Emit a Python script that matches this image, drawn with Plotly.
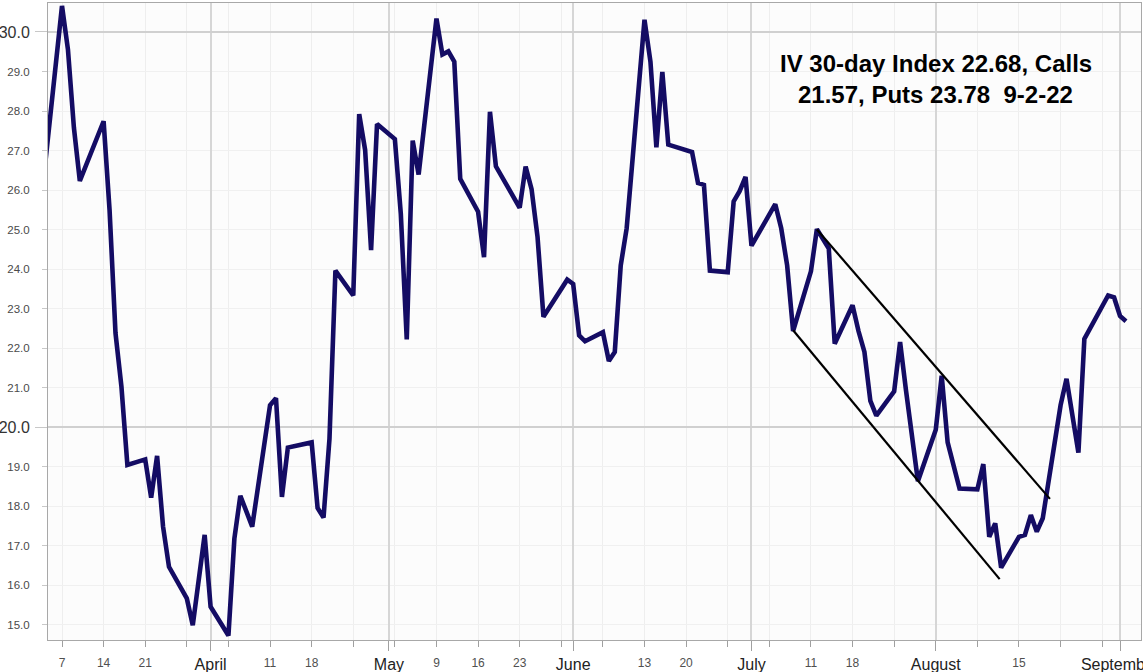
import plotly.graph_objects as go

# ---------------- data ----------------
dates = [
    "2022-03-04", "2022-03-07", "2022-03-08", "2022-03-09", "2022-03-10",
    "2022-03-14", "2022-03-15", "2022-03-16", "2022-03-17", "2022-03-18",
    "2022-03-21", "2022-03-22", "2022-03-23", "2022-03-24", "2022-03-25",
    "2022-03-28", "2022-03-29", "2022-03-30", "2022-03-31", "2022-04-01",
    "2022-04-04", "2022-04-05", "2022-04-06", "2022-04-08",
    "2022-04-11", "2022-04-12", "2022-04-13", "2022-04-14",
    "2022-04-18", "2022-04-19", "2022-04-20", "2022-04-21", "2022-04-22",
    "2022-04-25", "2022-04-26", "2022-04-27", "2022-04-28", "2022-04-29",
    "2022-05-02", "2022-05-03", "2022-05-04", "2022-05-05", "2022-05-06",
    "2022-05-09", "2022-05-10", "2022-05-11", "2022-05-12", "2022-05-13",
    "2022-05-16", "2022-05-17", "2022-05-18", "2022-05-19",
    "2022-05-23", "2022-05-24", "2022-05-25", "2022-05-26", "2022-05-27",
    "2022-05-31", "2022-06-01", "2022-06-02", "2022-06-03",
    "2022-06-06", "2022-06-07", "2022-06-08", "2022-06-09", "2022-06-10",
    "2022-06-13", "2022-06-14", "2022-06-15", "2022-06-16", "2022-06-17",
    "2022-06-21", "2022-06-22", "2022-06-23", "2022-06-24",
    "2022-06-27", "2022-06-28", "2022-06-29", "2022-06-30", "2022-07-01",
    "2022-07-05", "2022-07-06", "2022-07-07", "2022-07-08",
    "2022-07-11", "2022-07-12", "2022-07-14", "2022-07-15",
    "2022-07-18", "2022-07-19", "2022-07-20", "2022-07-21", "2022-07-22",
    "2022-07-25", "2022-07-26", "2022-07-27", "2022-07-29",
    "2022-08-01", "2022-08-02", "2022-08-03", "2022-08-05",
    "2022-08-08", "2022-08-09", "2022-08-10", "2022-08-11", "2022-08-12",
    "2022-08-15", "2022-08-16", "2022-08-17", "2022-08-18", "2022-08-19",
    "2022-08-22", "2022-08-23", "2022-08-25", "2022-08-26",
    "2022-08-30", "2022-08-31", "2022-09-01", "2022-09-02",
]
iv30 = [
    26.42, 30.66, 29.56, 27.58, 26.23,
    27.74, 25.50, 22.38, 21.02, 19.04,
    19.18, 18.21, 19.27, 17.48, 16.46,
    15.66, 14.98, 16.05, 17.27, 15.45,
    14.72, 17.17, 18.26, 17.48,
    20.55, 20.73, 18.23, 19.48,
    19.61, 17.95, 17.71, 19.70, 23.96,
    23.33, 27.92, 27.01, 24.48, 27.67,
    27.29, 25.40, 22.22, 27.25, 26.39,
    30.34, 29.43, 29.51, 29.25, 26.28,
    25.45, 24.30, 27.98, 26.60,
    25.55, 26.59, 26.02, 24.82, 22.79,
    23.73, 23.62, 22.32, 22.17,
    22.40, 21.67, 21.90, 24.09, 25.03,
    30.31, 29.25, 27.08, 28.99, 27.15,
    26.96, 26.18, 26.13, 23.96,
    23.92, 25.71, 25.97, 26.33, 24.59,
    25.64, 25.03, 24.09, 22.43,
    23.94, 25.01, 24.52, 22.11,
    23.08, 22.43, 21.90, 20.66, 20.29,
    20.90, 22.15, 20.92, 18.63,
    19.93, 21.30, 19.61, 18.44,
    18.42, 19.06, 17.22, 17.56, 16.44,
    17.22, 17.27, 17.77, 17.35, 17.69,
    20.55, 21.22, 19.35, 22.23,
    23.33, 23.28, 22.81, 22.68,
]

# trend channel (start/end of each line)
channel_upper_dates = ["2022-07-12 00:00", "2022-08-20 05:00"]
channel_upper_vals = [25.00, 18.18]
channel_lower_dates = ["2022-07-08 00:00", "2022-08-11 18:00"]
channel_lower_vals = [22.45, 16.15]

week_ticks = [
    "2022-03-07", "2022-03-14", "2022-03-21", "2022-03-28", "2022-04-04",
    "2022-04-11", "2022-04-18", "2022-04-25", "2022-05-02", "2022-05-09",
    "2022-05-16", "2022-05-23", "2022-05-30", "2022-06-06", "2022-06-13",
    "2022-06-20", "2022-06-27", "2022-07-04", "2022-07-11", "2022-07-18",
    "2022-07-25", "2022-08-01", "2022-08-08", "2022-08-15", "2022-08-22",
    "2022-08-29",
]
week_labels = [
    "7", "14", "21", "", "",
    "11", "18", "", "", "9",
    "16", "23", "", "", "13",
    "20", "", "", "11", "18",
    "", "", "", "15", "",
    "",
]
month_ticks = ["2022-04-01", "2022-05-01", "2022-06-01", "2022-07-01",
               "2022-08-01", "2022-09-01"]
month_labels = ["April", "May", "June", "July", "August", "September"]

minor_y_ticks = [15, 16, 17, 18, 19, 21, 22, 23, 24, 25, 26, 27, 28, 29]
minor_y_labels = ["15.0", "16.0", "17.0", "18.0", "19.0", "21.0", "22.0",
                  "23.0", "24.0", "25.0", "26.0", "27.0", "28.0", "29.0"]
major_y_ticks = [20, 30]
major_y_labels = ["20.0", "30.0"]

title_line1 = "IV 30-day Index 22.68, Calls"
title_line2 = "21.57, Puts 23.78 \u00a09-2-22"

x_range = ["2022-03-04 15:29", "2022-09-04 12:43"]
y_range = [14.608, 30.734]

# ---------------- figure ----------------
FONT = "Liberation Sans, Arial, sans-serif"
fig = go.Figure()

fig.add_trace(go.Scatter(
    x=dates, y=iv30, mode="lines",
    line=dict(color="#140c64", width=4.6),
    showlegend=False, hoverinfo="x+y",
))

cx = channel_upper_dates + [None] + channel_lower_dates
cy = channel_upper_vals + [None] + channel_lower_vals
fig.add_trace(go.Scatter(
    x=cx, y=cy, mode="lines",
    line=dict(color="#000000", width=2.2),
    showlegend=False, hoverinfo="skip", connectgaps=False,
))

# dummy trace so the overlay axes render
fig.add_trace(go.Scatter(x=[], y=[], xaxis="x2", yaxis="y2",
                         showlegend=False, hoverinfo="skip"))

fig.update_layout(
    width=1143, height=672,
    margin=dict(l=48, r=2, t=3, b=32, autoexpand=False),
    paper_bgcolor="#ffffff",
    plot_bgcolor="#fcfcfc",
    xaxis=dict(
        type="date", range=x_range, automargin=False,
        tickmode="array", tickvals=week_ticks, ticktext=week_labels,
        ticks="outside", ticklen=6, tickcolor="#a0a0a0", tickwidth=1,
        showgrid=True, gridcolor="#eeeeee", gridwidth=1,
        tickfont=dict(family=FONT, size=12, color="#505050"),
        showline=True, linecolor="#a8a8a8", linewidth=1, mirror=True,
        zeroline=False, ticklabelstandoff=6,
    ),
    xaxis2=dict(
        type="date", range=x_range, overlaying="x", anchor="y2", side="bottom",
        automargin=False,
        tickmode="array", tickvals=month_ticks, ticktext=month_labels,
        ticks="outside", ticklen=10, tickcolor="#a0a0a0", tickwidth=1,
        showgrid=True, gridcolor="#d6d6d6", gridwidth=2,
        tickfont=dict(family=FONT, size=16, color="#222222"),
        showline=False, zeroline=False, ticklabeloverflow="allow",
    ),
    yaxis=dict(
        range=y_range, automargin=False,
        tickmode="array", tickvals=minor_y_ticks, ticktext=minor_y_labels,
        ticks="outside", ticklen=5, tickcolor="#c8c8c8", tickwidth=1,
        showgrid=True, gridcolor="#f0f0f0", gridwidth=1,
        tickfont=dict(family=FONT, size=11.5, color="#4a4a4a"),
        showline=True, linecolor="#a8a8a8", linewidth=1, mirror=True,
        zeroline=False, ticklabelstandoff=10,
    ),
    yaxis2=dict(
        range=y_range, overlaying="y", anchor="x2", side="left",
        automargin=False,
        tickmode="array", tickvals=major_y_ticks, ticktext=major_y_labels,
        ticks="outside", ticklen=12, tickcolor="#c8c8c8", tickwidth=1,
        showgrid=True, gridcolor="#d0d0d0", gridwidth=1.5,
        tickfont=dict(family=FONT, size=16, color="#333333"),
        showline=False, zeroline=False, ticklabelstandoff=2,
        ticklabeloverflow="allow",
    ),
    annotations=[
        dict(text="<b>" + title_line1 + "</b>", xref="paper", yref="paper",
             x=0.8124, y=0.9058, xanchor="center", yanchor="middle",
             showarrow=False, font=dict(family=FONT, size=24, color="#000000")),
        dict(text="<b>" + title_line2 + "</b>", xref="paper", yref="paper",
             x=0.8124, y=0.8560, xanchor="center", yanchor="middle",
             showarrow=False, font=dict(family=FONT, size=24, color="#000000")),
    ],
)

fig.write_html(
    "out.html",
    config={"displayModeBar": False},
    post_script="document.body.style.margin='0';document.body.style.padding='0';",
)
